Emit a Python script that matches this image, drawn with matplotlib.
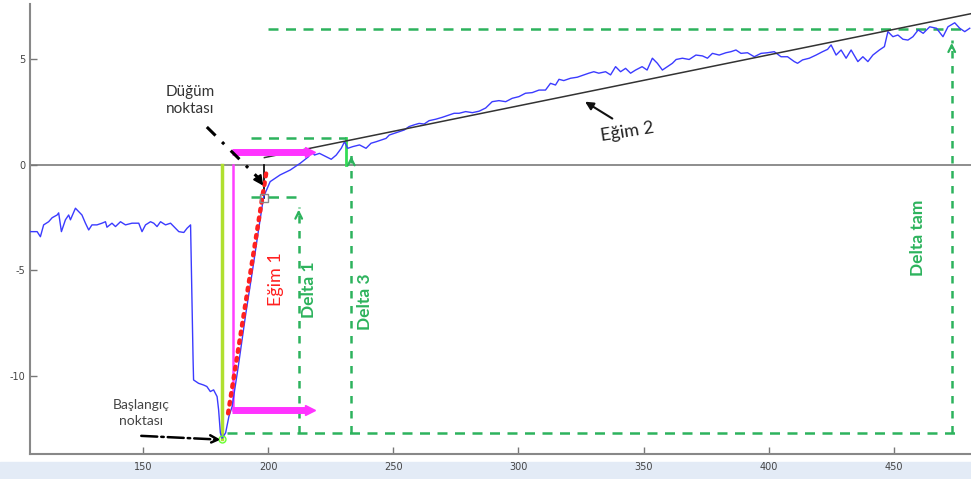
import matplotlib.pyplot as plt
from matplotlib.patches import Rectangle

plt.rcParams["axes.unicode_minus"] = False

# sinyal degerleri
sig_x = [105, 107.7, 109, 110.3, 112.3, 113.7, 115.7, 116.3, 117.4, 119, 120.3, 121,
         123, 124.2, 125.6, 127, 128.3, 129.6, 131.6, 133.6, 135, 135.6, 137.6, 139,
         141, 143, 145.6, 148.3, 149.6, 151, 153, 154.3, 155.6, 157, 159, 161, 162.3,
         164.3, 166.3, 167.6, 169, 169.3, 169.7, 170.0, 170.2, 172.2, 174.2, 175.5,
         176.9, 178.2, 179.6, 180.2, 180.9, 181.6, 183, 184.3, 185.6, 188, 191, 194,
         196, 198.2, 200.8, 204.8, 208.8, 212.8, 216.1, 217.5, 218.5, 220.5, 223.2,
         225.2, 227.2, 229.2, 230.5, 231.8, 233.8, 236.5, 239.1, 241.1, 243.1, 245.1,
         247.1, 248.4, 250.4, 252.4, 254.4, 256.3, 258.3, 260.3, 262.3, 264.3, 267,
         269.6, 272.3, 274.3, 276.3, 278.9, 281.6, 284.3, 286.9, 289.5, 292.2, 294.9,
         297.5, 300.2, 302.8, 305.5, 308.2, 310.8, 312.8, 314.8, 316.2, 318.1, 320.8,
         323.5, 326.1, 328.1, 330.1, 332.1, 334.8, 336.8, 338.8, 340.8, 342.8, 344.8,
         346.8, 349.4, 351.4, 353.5, 355.5, 357.5, 359.5, 361.5, 363, 365.5, 368.2,
         370.9, 373.5, 375.5, 377.5, 380.2, 382.9, 384.9, 386.9, 388.9, 391.5, 394.2,
         396.9, 399.5, 402.2, 404.9, 407.5, 410.2, 411.5, 413.5, 416.2, 418.9, 421.5,
         423.5, 424.9, 426.9, 428.9, 430.9, 432.9, 435.6, 437.6, 439.6, 441.6, 444.2,
         446.2, 447.6, 449.6, 451.6, 453.6, 455.6, 457.6, 459.7, 461.7, 464.3, 467,
         469.6, 471.6, 474.3, 476.3, 478.3, 480.3]
sig_y = [-3.16, -3.16, -3.4, -2.84, -2.69, -2.5, -2.37, -2.27, -3.16, -2.6, -2.37, -2.6,
         -2.05, -2.2, -2.37, -2.76, -3.08, -2.84, -2.84, -2.76, -2.69, -2.95, -2.76, -2.92,
         -2.69, -2.84, -2.76, -2.76, -3.16, -2.84, -2.69, -2.76, -2.92, -2.69, -2.84, -2.76, -2.92,
         -3.16, -3.2, -3.0, -2.84, -4.8, -7.2, -9.2, -10.19, -10.35, -10.43, -10.5,
         -10.74, -10.66, -10.98, -11.6, -12.7, -12.95, -12.7, -11.93, -11.45, -9.6, -7.1, -4.8,
         -3.2, -1.5, -0.79, -0.47, -0.24, 0.08, 0.39, 0.63, 0.47, 0.55, 0.39,
         0.27, 0.47, 0.79, 1.1, 0.79, 0.87, 0.95, 0.79, 1.03, 1.1, 1.18,
         1.26, 1.42, 1.5, 1.58, 1.66, 1.82, 1.9, 1.97, 1.94, 2.1, 2.17,
         2.26, 2.37, 2.45, 2.45, 2.53, 2.48, 2.55, 2.7, 3.0, 3.05, 3.0,
         3.16, 3.24, 3.4, 3.43, 3.55, 3.55, 3.87, 3.79, 4.06, 4.0, 4.11,
         4.16, 4.27, 4.35, 4.42, 4.35, 4.42, 4.27, 4.66, 4.42, 4.58, 4.35,
         4.5, 4.66, 4.5, 5.06, 4.82, 4.5, 4.66, 4.82, 5.0, 5.06, 5.0,
         5.21, 5.17, 5.06, 5.29, 5.21, 5.32, 5.37, 5.45, 5.29, 5.32, 5.13,
         5.29, 5.32, 5.37, 5.13, 5.13, 4.9, 4.82, 4.98, 5.06, 5.21, 5.37,
         5.48, 5.69, 5.21, 5.45, 5.06, 5.45, 4.9, 5.13, 4.9, 5.21, 5.45,
         5.61, 6.32, 6.08, 6.16, 5.96, 5.92, 6.08, 6.4, 6.24, 6.55, 6.48,
         6.08, 6.55, 6.74, 6.48, 6.32, 6.48]

# egim dogrulari
egim1_x = [184.0, 199.3]
egim1_y = [-11.77, -0.32]
egim2_x = [198.5, 482.0]
egim2_y = [0.35, 7.2]

# yesil kesikli seviyeler
seviye_y = [6.45, 1.26, -1.5, -12.7]
seviye_bas = [199.8, 193.3, 193.3, 183.4]
seviye_son = [477.5, 231.2, 213.2, 474.5]

# delta oklari
delta_x = [212.2, 233.2, 473.1]
delta_ust = [-1.98, 0.55, 5.92]
delta_alt = -12.7
delta_adi = ["Delta 1", "Delta 3", "Delta tam"]

# onemli noktalar
baslangic = (181.6, -13.0)
dugum = (198.3, -1.55)
magenta_x = 185.9
magenta_ust = 0.62
magenta_alt = -11.6
magenta_son = 217.6

GREEN = "#2db35d"
FONT = ["Lato", "DejaVu Sans"]

fig = plt.figure(figsize=(9.71, 4.79), dpi=100)
fig.patches.append(Rectangle((0, 0), 1, 17 / 479, transform=fig.transFigure,
                             color="#e3ebf6", zorder=-5))
ax = fig.add_axes([30 / 971, 25 / 479, 1 - 30 / 971, 450 / 479])
ax.set_zorder(2)

# yardimci cizgiler
ax.axhline(0, color="#7a7a7a", lw=1.2, zorder=1)
ax.plot([baslangic[0], baslangic[0]], [0, baslangic[1]], color="#b0e030", lw=2.5, zorder=2)
ax.plot([magenta_x, magenta_x], [0, magenta_alt], color="#ff40ff", lw=1.8, zorder=2)
ax.plot([dugum[0], dugum[0]], [0, dugum[1]], color="k", lw=1.2, zorder=2)
ax.plot([230.9, 230.9], [0, seviye_y[1]], color="#33dd55", lw=2, zorder=2)

for y, x0, x1 in zip(seviye_y, seviye_bas, seviye_son):
    ax.plot([x0, x1], [y, y], color=GREEN, lw=1.8, ls=(0, (4, 3)), zorder=2)

for x, ust in zip(delta_x, delta_ust):
    ax.plot([x, x], [delta_alt, ust], color=GREEN, lw=1.8, ls=(0, (3, 3)), zorder=2)
    ax.annotate("", xy=(x, ust), xytext=(x, ust - 0.5),
                arrowprops=dict(arrowstyle="->", color=GREEN, lw=1.6, mutation_scale=12))

ax.text(216.5, -5.9, delta_adi[0], rotation=90, color=GREEN, fontsize=12.5,
        family=FONT, weight="bold", ha="center", va="center")
ax.text(238.5, -6.5, delta_adi[1], rotation=90, color=GREEN, fontsize=12.5,
        family=FONT, weight="bold", ha="center", va="center")
ax.text(459.6, -3.46, delta_adi[2], rotation=90, color=GREEN, fontsize=12.5,
        family=FONT, weight="bold", ha="center", va="center")

# sinyal
ax.plot(sig_x, sig_y, color="#3b3bff", lw=1.0, zorder=3)

# egim 2
ax.plot(egim2_x, egim2_y, color="#333333", lw=1.1, zorder=4)

# magenta oklar
for y in [magenta_ust, magenta_alt]:
    ax.plot([magenta_x - 0.5, magenta_son - 1.5], [y, y], color="#ff33ff", lw=5,
            solid_capstyle="butt", zorder=4)
    ax.plot([magenta_son - 1.0], [y], marker=">", ms=7, color="#ff33ff", zorder=4)

# egim 1 (kirmizi noktali)
ax.plot(egim1_x, egim1_y, color="#ff2020", lw=3.2, ls=(0, (0.6, 1.4)),
        dash_capstyle="round", zorder=5)
ax.text(203.0, -5.4, "Eğim 1", rotation=90, color="#ff2020", fontsize=13,
        family=FONT, ha="center", va="center")

ax.plot(*dugum, marker="s", ms=6, mfc="none", mec="#888888", zorder=6)
ax.plot(*baslangic, marker="o", ms=5, mfc="none", mec="#66ff33", zorder=6)

# dugum noktasi
ax.text(168.7, 3.05, "Düğüm\nnoktası", fontsize=11, family=FONT, color="#333333",
        ha="center", va="center", linespacing=1.25)
ax.plot([175.5, 196.8], [1.8, -0.7], color="k", lw=2.2, ls=(0, (4, 3, 1, 3)), zorder=6)
ax.annotate("", xy=(198.0, -0.98), xytext=(195.5, -0.55),
            arrowprops=dict(arrowstyle="-|>", color="k", lw=1.5, mutation_scale=14,
                            shrinkA=0, shrinkB=0), zorder=6)

# baslangic noktasi
ax.text(149.2, -11.75, "Başlangıç\nnoktası", fontsize=10, family=FONT, color="#444444",
        ha="center", va="center", linespacing=1.35)
ax.annotate("", xy=(181.0, -13.02), xytext=(149.3, -12.84),
            arrowprops=dict(arrowstyle="->", color="k", lw=1.8, ls="-.",
                            mutation_scale=14, shrinkA=0, shrinkB=0), zorder=6)

# egim 2 etiketi
ax.annotate("", xy=(326.6, 3.0), xytext=(337.5, 2.2),
            arrowprops=dict(arrowstyle="-|>", color="#111111", lw=1.5, mutation_scale=12,
                            shrinkA=0, shrinkB=0))
ax.text(343.6, 1.56, "Eğim 2", rotation=9, fontsize=13, family=FONT, color="#222222",
        ha="center", va="center")

ax.set_xlim(104.85, 480.8)
ax.set_ylim(-13.7, 7.63)
ax.set_xticks([150, 200, 250, 300, 350, 400, 450])
ax.set_yticks([-10, -5, 0, 5])
ax.tick_params(direction="in", length=5, width=1, color="#777777", labelsize=7,
               labelcolor="#444444")
ax.tick_params(axis="x", pad=6)
for s in ["top", "right"]:
    ax.spines[s].set_visible(False)
for s in ["left", "bottom"]:
    ax.spines[s].set_color("#888888")
    ax.spines[s].set_linewidth(1.5)
ax.patch.set_alpha(0)

fig.savefig("out.png", dpi=100)
